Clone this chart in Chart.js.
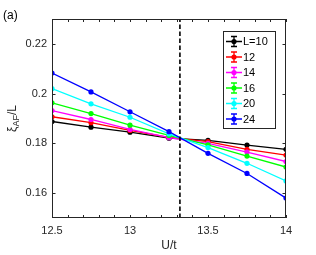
<!DOCTYPE html>
<html lang="en">
<head>
    <meta charset="UTF-8">
    <title>xi_AF / L vs U/t</title>
    <script src="https://cdn.jsdelivr.net/npm/chart.js"></script>
    <style>
        body { margin: 0; background: #fff; }
        canvas { display: block; }
    </style>
</head>
<body>
    <canvas id="xiChart" width="316" height="255"></canvas>

    <script>
        // values
        const uValues = [12.5, 12.75, 13, 13.25, 13.5, 13.75, 14];
        const sizeLabels = ['L=10', '12', '14', '16', '20', '24'];
        const xiL10 = [0.1888, 0.1865, 0.1845, 0.1821, 0.1812, 0.1793, 0.1776];
        const xiL12 = [0.1907, 0.1883, 0.1852, 0.1824, 0.1807, 0.1776, 0.1753];
        const xiL14 = [0.1932, 0.1896, 0.1856, 0.1823, 0.1800, 0.1765, 0.1727];
        const xiL16 = [0.1963, 0.1920, 0.1873, 0.1832, 0.1794, 0.1749, 0.1705];
        const xiL20 = [0.2020, 0.1959, 0.1905, 0.1838, 0.1783, 0.1720, 0.1649];
        const xiL24 = [0.2083, 0.2007, 0.1927, 0.1847, 0.1760, 0.1679, 0.1580];
        const criticalU = 13.32;
        const xTicks = [12.5, 13, 13.5, 14];
        const yTicks = [0.16, 0.18, 0.2, 0.22];

        const seriesColors = ['#000000', '#ff0000', '#ff00ff', '#00ff00', '#00ffff', '#0000ff'];
        const allSeries = [xiL10, xiL12, xiL14, xiL16, xiL20, xiL24];
        const axisColor = '#262626';
        const fontFamily = "'Liberation Sans', Arial, sans-serif";

        const datasets = allSeries.map((vals, i) => ({
            label: sizeLabels[i],
            data: vals.map((v, j) => ({ x: uValues[j], y: v })),
            borderColor: seriesColors[i],
            backgroundColor: seriesColors[i],
            borderWidth: 1.3,
            pointRadius: 2.6,
            pointBorderWidth: 0,
            tension: 0,
            order: allSeries.length - i
        }));

        // dashed line at the crossing point
        datasets.push({
            label: 'Uc',
            data: [{ x: criticalU, y: 0.15 }, { x: criticalU, y: 0.23 }],
            borderColor: '#000000',
            borderWidth: 1.6,
            borderDash: [4.5, 2.5],
            pointRadius: 0,
            order: -1
        });

        // MATLAB style box with inward ticks, legend and labels
        const matlabFrame = {
            id: 'matlabFrame',
            afterDraw(chart) {
                const { ctx, chartArea: a, scales } = chart;
                const xs = scales.x, ys = scales.y;
                ctx.save();
                ctx.strokeStyle = axisColor;
                ctx.lineWidth = 1;
                ctx.strokeRect(a.left + 0.5, a.top + 0.5, a.right - a.left - 1, a.bottom - a.top - 1);

                // x ticks (every 0.1) on bottom and top
                ctx.beginPath();
                for (let k = 0; k <= 15; k++) {
                    const px = Math.round(xs.getPixelForValue(12.5 + k * 0.1)) + 0.5;
                    ctx.moveTo(px, a.bottom); ctx.lineTo(px, a.bottom - 3);
                    ctx.moveTo(px, a.top); ctx.lineTo(px, a.top + 3);
                }
                yTicks.forEach(v => {
                    const py = Math.round(ys.getPixelForValue(v)) + 0.5;
                    ctx.moveTo(a.left, py); ctx.lineTo(a.left + 3.5, py);
                    ctx.moveTo(a.right, py); ctx.lineTo(a.right - 3.5, py);
                });
                ctx.stroke();

                // legend
                const lx = 223, ly = 31, lw = 52, lh = 97, rowH = 15.5;
                ctx.fillStyle = '#ffffff';
                ctx.fillRect(lx, ly, lw, lh);
                ctx.strokeStyle = axisColor;
                ctx.strokeRect(lx + 0.5, ly + 0.5, lw, lh);
                ctx.font = '11px ' + fontFamily;
                ctx.textBaseline = 'middle';
                sizeLabels.forEach((lab, i) => {
                    const cy = ly + 10.5 + i * rowH;
                    const cx = 234;
                    const col = seriesColors[i];
                    ctx.strokeStyle = col;
                    ctx.lineWidth = 1.3;
                    ctx.beginPath();
                    ctx.moveTo(226, cy); ctx.lineTo(242, cy);
                    ctx.moveTo(cx, cy - 5); ctx.lineTo(cx, cy + 5);
                    ctx.moveTo(cx - 3, cy - 5); ctx.lineTo(cx + 3, cy - 5);
                    ctx.moveTo(cx - 3, cy + 5); ctx.lineTo(cx + 3, cy + 5);
                    ctx.stroke();
                    ctx.fillStyle = col;
                    ctx.beginPath();
                    ctx.arc(cx, cy, 2.6, 0, Math.PI * 2);
                    ctx.fill();
                    ctx.fillStyle = '#000000';
                    ctx.fillText(lab, 243, cy + 0.5);
                });

                // y label: xi_AF / L
                ctx.translate(12, (a.top + a.bottom) / 2);
                ctx.rotate(-Math.PI / 2);
                ctx.fillStyle = axisColor;
                ctx.textBaseline = 'alphabetic';
                ctx.textAlign = 'left';
                const big = '12px ' + fontFamily, small = '9px ' + fontFamily;
                ctx.font = big;
                const w1 = ctx.measureText('\u03be').width;
                ctx.font = small;
                const w2 = ctx.measureText('AF').width;
                ctx.font = big;
                const w3 = ctx.measureText('/L').width;
                let x0 = -(w1 + w2 + w3) / 2;
                ctx.fillText('\u03be', x0, 4);
                ctx.font = small;
                ctx.fillText('AF', x0 + w1, 7);
                ctx.font = big;
                ctx.fillText('/L', x0 + w1 + w2, 4);
                ctx.restore();

                // panel tag
                ctx.save();
                ctx.fillStyle = '#000000';
                ctx.font = '12px ' + fontFamily;
                ctx.textBaseline = 'alphabetic';
                ctx.fillText('(a)', 3, 19);
                ctx.restore();
            }
        };

        new Chart(document.getElementById('xiChart').getContext('2d'), {
            type: 'line',
            data: { datasets: datasets },
            plugins: [matlabFrame],
            options: {
                responsive: false,
                animation: false,
                layout: { padding: { left: 0, right: 30, top: 19, bottom: 0 } },
                plugins: {
                    legend: { display: false },
                    tooltip: { enabled: false }
                },
                scales: {
                    x: {
                        type: 'linear',
                        min: 12.5,
                        max: 14,
                        afterBuildTicks: s => { s.ticks = xTicks.map(v => ({ value: v })); },
                        afterFit: s => { s.height = 37; s.paddingLeft = 0; s.paddingRight = 0; },
                        grid: { display: false, drawTicks: false },
                        border: { display: false },
                        ticks: {
                            padding: 6,
                            color: axisColor,
                            font: { family: fontFamily, size: 11 },
                            maxRotation: 0,
                            callback: v => String(v)
                        },
                        title: {
                            display: true,
                            text: 'U/t',
                            color: axisColor,
                            font: { family: fontFamily, size: 12 },
                            padding: { top: 0, bottom: 2 }
                        }
                    },
                    y: {
                        type: 'linear',
                        min: 0.15,
                        max: 0.23,
                        afterBuildTicks: s => { s.ticks = yTicks.map(v => ({ value: v })); },
                        afterFit: s => { s.width = 52; s.paddingTop = 0; s.paddingBottom = 0; },
                        grid: { display: false, drawTicks: false },
                        border: { display: false },
                        ticks: {
                            padding: 5,
                            color: axisColor,
                            font: { family: fontFamily, size: 11 },
                            callback: v => String(v)
                        }
                    }
                }
            }
        });
    </script>
</body>
</html>
